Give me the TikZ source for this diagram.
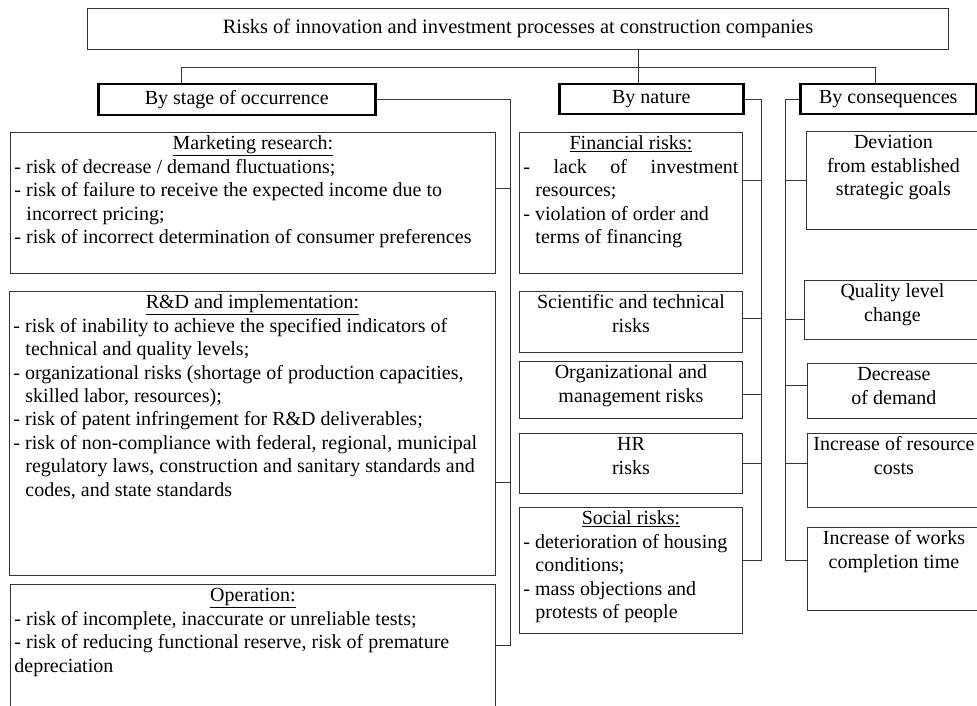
\documentclass[tikz,border=0pt]{standalone}
\usepackage{fontspec}
\setmainfont{Liberation Serif}
\newcommand\ind{\hspace*{0.6em}}
\begin{document}
\begin{tikzpicture}[x=1pt,y=-1pt,
  every node/.style={font=\fontsize{20}{23.4}\selectfont, text=black},
  plain/.style={draw=black!80, line width=0.9pt, inner xsep=4pt, inner ysep=0pt, anchor=north west},
  head/.style={draw=black, line width=2.5pt, inner sep=0pt, anchor=north west, align=center},
  topbox/.style={draw=black!80, line width=0.9pt, inner sep=0pt, anchor=north west, align=center},
  link/.style={draw=black!80, line width=0.9pt}]
\useasboundingbox (0,0) rectangle (977,706);
\clip (0,0) rectangle (977,706);
\newcommand\rbox[6]{\node[plain] (#1) at (#2,#3) {\parbox[c][#5pt][t]{\dimexpr#4pt-8pt\relax}{\vspace*{1pt}\strut#6}};}

% top and headers
\node[topbox, minimum width=861pt, minimum height=41pt, font=\fontsize{20.4}{24}\selectfont] (top) at (87,8) {Risks of innovation and investment processes at construction companies};
\node[head, minimum width=277pt, minimum height=31pt] (stage) at (97,83) {By stage of occurrence};
\node[head, minimum width=184pt, minimum height=30pt] (nature) at (558,83) {By nature};
\node[head, minimum width=176pt, minimum height=30pt] (conseq) at (799,83) {By consequences};

% left column
\rbox{mkt}{10}{132}{485}{141}{{\centering\underline{Marketing research:}\par}\raggedright
- risk of decrease / demand fluctuations;\\
- risk of failure to receive the expected income due to\\
\ind incorrect pricing;\\
- risk of incorrect determination of consumer preferences}
\rbox{rnd}{9}{291}{486}{284}{{\centering\underline{R\&D and implementation:}\par}\raggedright
- risk of inability to achieve the specified indicators of\\
\ind technical and quality levels;\\
- organizational risks (shortage of production capacities,\\
\ind skilled labor, resources);\\
- risk of patent infringement for R\&D deliverables;\\
- risk of non-compliance with federal, regional, municipal\\
\ind regulatory laws, construction and sanitary standards and\\
\ind codes, and state standards}
\rbox{oper}{10}{584}{485}{140}{{\centering\underline{Operation:}\par}\raggedright
- risk of incomplete, inaccurate or unreliable tests;\\
- risk of reducing functional reserve, risk of premature\\
depreciation}

% middle column
\rbox{fin}{519}{132}{223}{141}{{\centering\underline{Financial risks:}\par}\raggedright
\leavevmode\hbox to\linewidth{-\hfill lack\hfill of\hfill investment}\\
\ind resources;\\
- violation of order and\\
\ind terms of financing}
\rbox{sci}{519}{291}{223}{61}{\centering Scientific and technical\\ risks}
\rbox{org}{519}{361}{223}{57}{\centering Organizational and\\ management risks}
\rbox{hr}{519}{433}{223}{60}{\centering HR\\ risks}
\rbox{soc}{519}{507}{223}{126}{{\centering\underline{Social risks:}\par}\raggedright
- deterioration of housing\\
\ind conditions;\\
- mass objections and\\
\ind protests of people}

% right column
\rbox{dev}{806}{131}{174}{98}{\centering Deviation\\ from established\\ strategic goals}
\rbox{qual}{804}{280}{176}{59}{\centering Quality level\\ change}
\rbox{dec}{807}{363}{173}{55}{\centering Decrease\\ of demand}
\rbox{res}{807}{433}{173}{74}{\centering Increase of resource\\ costs}
\rbox{works}{807}{527}{173}{83}{\centering Increase of works\\ completion time}

% top connectors
\coordinate (j) at (638,67);
\coordinate (jl) at (181,67);
\coordinate (jr) at (875,67);
\draw[link] (top.south -| j) -- (j);
\draw[link] (jl) -- (jr);
\draw[link] (jl) -- (jl |- stage.north);
\draw[link] (j) -- (j |- nature.north);
\draw[link] (jr) -- (jr |- conseq.north);

% stage spine
\coordinate (s1) at (510.5,645);
\coordinate (s1a) at (510.5,188);
\coordinate (s1b) at (510.5,482);
\draw[link] (stage.east) -- (stage.east -| s1) -- (s1) -- (s1 -| oper.east);
\draw[link] (s1a) -- (s1a -| mkt.east);
\draw[link] (s1b) -- (s1b -| rnd.east);

% nature spine
\coordinate (s2) at (761.5,560);
\coordinate (s2a) at (761.5,180);
\coordinate (s2b) at (761.5,318);
\coordinate (s2c) at (761.5,394);
\coordinate (s2d) at (761.5,463);
\draw[link] (nature.east) -- (nature.east -| s2) -- (s2) -- (s2 -| soc.east);
\draw[link] (s2a) -- (s2a -| fin.east);
\draw[link] (s2b) -- (s2b -| sci.east);
\draw[link] (s2c) -- (s2c -| org.east);
\draw[link] (s2d) -- (s2d -| hr.east);

% consequences spine
\coordinate (s3) at (785,560);
\coordinate (s3a) at (785,180);
\coordinate (s3b) at (785,319);
\coordinate (s3c) at (785,385);
\coordinate (s3d) at (785,463);
\draw[link] (conseq.west) -- (conseq.west -| s3) -- (s3) -- (s3 -| works.west);
\draw[link] (s3a) -- (s3a -| dev.west);
\draw[link] (s3b) -- (s3b -| qual.west);
\draw[link] (s3c) -- (s3c -| dec.west);
\draw[link] (s3d) -- (s3d -| res.west);
\end{tikzpicture}
\end{document}
